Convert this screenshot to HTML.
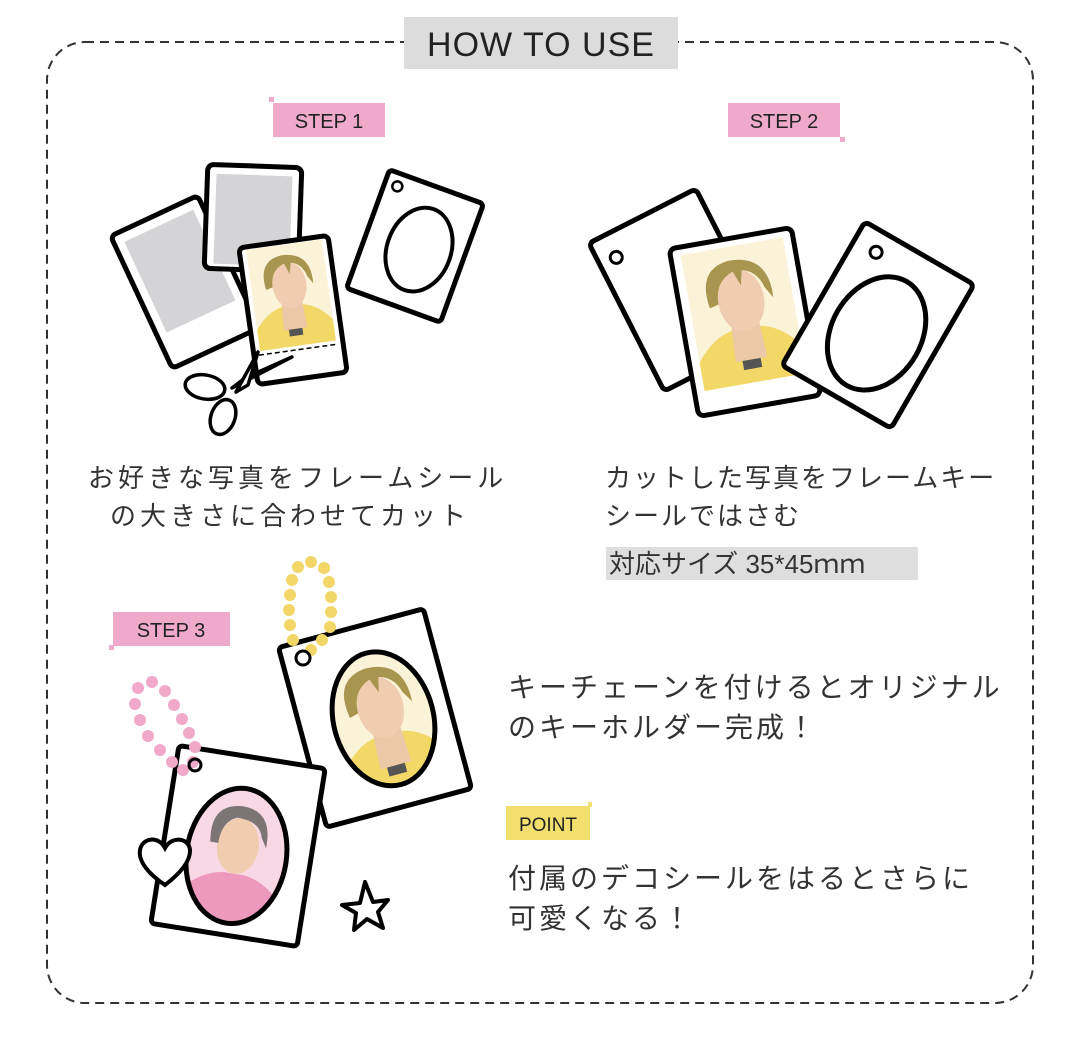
<!DOCTYPE html>
<html><head><meta charset="utf-8"><style>
html,body{margin:0;padding:0;background:#fff;}
svg{display:block;}
text{font-family:"Liberation Sans","Noto Sans CJK JP",sans-serif;fill:#222;}
.j{font-size:26px;font-weight:400;fill:#333;}
</style></head><body>
<svg width="1080" height="1043" viewBox="0 0 1080 1043" xmlns="http://www.w3.org/2000/svg">
<defs>
<g id="face">
  <rect x="-45" y="-60" width="90" height="120" fill="#fbf3d8"/>
  <path d="M-45 60 L-45 35 Q-30 15 -10 12 L10 12 Q30 15 45 35 L45 60 Z" fill="#f2d867"/>
  <path d="M-12 5 L12 5 L14 40 L-14 40 Z" fill="#eac8a8"/>
  <rect x="-8" y="40" width="16" height="8" fill="#555"/>
  <ellipse cx="0" cy="-12" rx="20" ry="27" fill="#f0cdb0"/>
  <path d="M-28 -10 Q-34 -45 -5 -48 Q30 -48 28 -10 L22 -20 Q18 -35 5 -38 L2 -25 L-3 -38 Q-20 -32 -20 -12 Z" fill="#a89550"/>
</g>
</defs>

<rect x="47" y="42" width="986" height="961" rx="38" fill="none" stroke="#333" stroke-width="2" stroke-dasharray="9,6"/>
<rect x="404" y="17" width="274" height="52" fill="#dcdcdc"/>
<text x="541" y="56" text-anchor="middle" font-size="34" style="letter-spacing:1px">HOW TO USE</text>

<rect x="273" y="103" width="112" height="34" fill="#efaacb"/>
<rect x="269" y="97" width="5" height="5" fill="#efaacb"/>
<text x="329" y="128" text-anchor="middle" font-size="20">STEP 1</text>
<rect x="728" y="103" width="112" height="34" fill="#efaacb"/>
<rect x="840" y="137" width="5" height="5" fill="#efaacb"/>
<text x="784" y="128" text-anchor="middle" font-size="20">STEP 2</text>
<rect x="113" y="612" width="117" height="34" fill="#efaacb"/>
<rect x="109" y="645" width="5" height="5" fill="#efaacb"/>
<text x="171" y="637" text-anchor="middle" font-size="20">STEP 3</text>
<rect x="506" y="806" width="84" height="34" fill="#f3df6e"/>
<rect x="588" y="802" width="4" height="5" fill="#f3df6e"/>
<text x="548" y="831" text-anchor="middle" font-size="19">POINT</text>

<g stroke="#000" stroke-width="5" stroke-linejoin="round">
  <g transform="translate(185,282) rotate(-25)"><rect x="-48" y="-73" width="96" height="146" rx="5" fill="#fff"/><rect x="-38" y="-62" width="76" height="100" fill="#d4d4d6" stroke="none"/></g>
  <g transform="translate(253,218) rotate(2)"><rect x="-47" y="-52" width="94" height="104" rx="6" fill="#fff"/><rect x="-38" y="-43" width="76" height="90" fill="#d4d4d6" stroke="none"/></g>
  <g transform="translate(293,310) rotate(-8)"><rect x="-45" y="-69" width="90" height="138" rx="5" fill="#fff"/><g transform="translate(0,-15) scale(0.85)" stroke="none"><use href="#face"/></g><line x1="-40" y1="40" x2="40" y2="40" stroke-width="1.5" stroke-dasharray="5,3"/></g>
  <g transform="translate(415,246) rotate(20)"><rect x="-50" y="-63" width="100" height="126" rx="4" fill="#fff"/><ellipse cx="5" cy="2" rx="32" ry="43" fill="none" stroke-width="4"/><circle cx="-37" cy="-50" r="5" fill="#fff" stroke-width="2.5"/></g>
</g>
<g stroke="#000" stroke-width="3.5" fill="#fff" stroke-linejoin="round">
  <path d="M232 388 L292 357 L245 378 Z"/>
  <path d="M236 392 L258 352 L248 385 Z"/>
  <ellipse cx="205" cy="387" rx="20" ry="12" transform="rotate(10 205 387)"/>
  <ellipse cx="223" cy="417" rx="12" ry="18" transform="rotate(20 223 417)"/>
</g>

<g stroke="#000" stroke-width="5" stroke-linejoin="round">
  <g transform="translate(680,290) rotate(-27)"><rect x="-60" y="-83" width="120" height="166" rx="5" fill="#fff"/><circle cx="-42" cy="-58" r="6" fill="#fff" stroke-width="3"/></g>
  <g transform="translate(745,322) rotate(-10)"><rect x="-62" y="-85" width="124" height="170" rx="6" fill="#fff"/><g transform="translate(0,-8) scale(1.15)" stroke="none"><use href="#face"/></g></g>
  <g transform="translate(878,325) rotate(30)"><rect x="-63" y="-83" width="126" height="166" rx="5" fill="#fff"/><ellipse cx="3" cy="8" rx="45" ry="60" fill="none" stroke-width="5"/><circle cx="-38" cy="-62" r="6" fill="#fff" stroke-width="3"/></g>
</g>

<text class="j" x="88" y="487" style="letter-spacing:4px">お好きな写真をフレームシール</text>
<text class="j" x="110" y="525" style="letter-spacing:4px">の大きさに合わせてカット</text>
<text class="j" x="605" y="487" style="letter-spacing:2px">カットした写真をフレームキー</text>
<text class="j" x="605" y="525" style="letter-spacing:2px">シールではさむ</text>
<rect x="606" y="547" width="312" height="33" fill="#dedede"/>
<text class="j" x="609" y="573">対応サイズ 35*45ｍｍ</text>

<g stroke="#000" stroke-width="5" stroke-linejoin="round">
  <g transform="translate(375,718) rotate(-15)"><rect x="-75" y="-93" width="150" height="186" rx="4" fill="#fff"/>
    <clipPath id="c1"><ellipse cx="8" cy="3" rx="50" ry="68"/></clipPath>
    <g clip-path="url(#c1)" stroke="none"><rect x="-50" y="-70" width="120" height="150" fill="#fbf3d8"/><g transform="translate(8,5) scale(1.15)"><use href="#face"/></g></g>
    <ellipse cx="8" cy="3" rx="50" ry="68" fill="none" stroke-width="5"/></g>
  <g transform="translate(238,846) rotate(9)"><rect x="-74" y="-90" width="148" height="180" rx="4" fill="#fff"/>
    <clipPath id="c2"><ellipse cx="0" cy="10" rx="50" ry="68"/></clipPath>
    <g clip-path="url(#c2)" stroke="none"><rect x="-50" y="-60" width="100" height="140" fill="#f9d8e6"/>
      <path d="M-50 80 L-50 50 Q-30 30 -10 28 L10 28 Q30 30 50 50 L50 80 Z" fill="#ec99bd"/>
      <ellipse cx="0" cy="0" rx="21" ry="28" fill="#f0cdb0"/>
      <path d="M-28 0 Q-34 -38 -2 -40 Q30 -40 28 -2 L22 -12 Q18 -28 -5 -28 Q-20 -22 -20 0 Z" fill="#7d7575"/></g>
    <ellipse cx="0" cy="10" rx="50" ry="68" fill="none" stroke-width="5"/></g>
</g>
<g fill="#f2d667">
  <circle cx="293" cy="640" r="6"/><circle cx="290" cy="625" r="6"/><circle cx="289" cy="610" r="6"/><circle cx="290" cy="595" r="6"/><circle cx="292" cy="580" r="6"/><circle cx="298" cy="567" r="6"/><circle cx="311" cy="562" r="6"/><circle cx="324" cy="568" r="6"/><circle cx="329" cy="582" r="6"/><circle cx="331" cy="597" r="6"/><circle cx="331" cy="612" r="6"/><circle cx="330" cy="627" r="6"/><circle cx="322" cy="640" r="6"/><circle cx="311" cy="650" r="6"/>
</g>
<circle cx="303" cy="658" r="7" fill="#fff" stroke="#000" stroke-width="3"/>
<g fill="#f0a9c9">
  <circle cx="138" cy="688" r="6"/><circle cx="152" cy="682" r="6"/><circle cx="165" cy="691" r="6"/><circle cx="174" cy="705" r="6"/><circle cx="182" cy="719" r="6"/><circle cx="189" cy="733" r="6"/><circle cx="195" cy="747" r="6"/><circle cx="193" cy="762" r="6"/><circle cx="183" cy="770" r="6"/><circle cx="172" cy="762" r="6"/><circle cx="160" cy="750" r="6"/><circle cx="148" cy="736" r="6"/><circle cx="140" cy="720" r="6"/><circle cx="135" cy="704" r="6"/>
</g>
<circle cx="195" cy="765" r="6" fill="none" stroke="#000" stroke-width="3"/>
<path d="M165 885 C150 875 138 862 140 850 C142 838 158 835 165 848 C172 835 190 838 190 851 C190 863 178 875 165 885 Z" fill="#fff" stroke="#000" stroke-width="4"/>
<path d="M365 882 L373 902 L388 900 L378 912 L383 928 L367 919 L354 930 L356 913 L342 905 L360 903 Z" fill="#fff" stroke="#000" stroke-width="4" stroke-linejoin="round"/>

<text class="j" x="508" y="697" font-size="28" style="letter-spacing:3px;font-size:28px">キーチェーンを付けるとオリジナル</text>
<text class="j" x="508" y="737" style="letter-spacing:3px;font-size:28px">のキーホルダー完成！</text>
<text class="j" x="508" y="888" style="letter-spacing:3px;font-size:28px">付属のデコシールをはるとさらに</text>
<text class="j" x="508" y="928" style="letter-spacing:3px;font-size:28px">可愛くなる！</text>
</svg>
</body></html>
